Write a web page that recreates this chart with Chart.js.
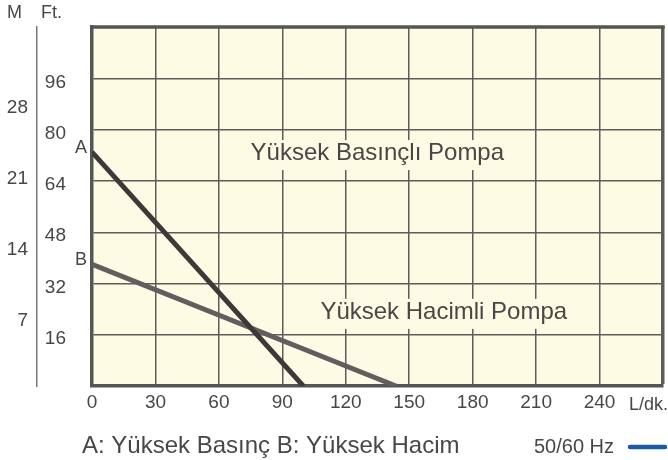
<!DOCTYPE html>
<html lang="tr">
<head>
    <meta charset="UTF-8">
    <title>Pompa Performans Eğrisi</title>
    <script src="https://cdn.jsdelivr.net/npm/chart.js"></script>
    <style>
        html, body { margin: 0; padding: 0; background: #fff; }
        #wrap { width: 668px; height: 460px; }
    </style>
</head>
<body>
    <div id="wrap"><canvas id="pumpChart" width="668" height="460"></canvas></div>
    <script>
        // values
        const flowMax = 270;                 // L/dk.
        const flowStep = 30;
        const feetMax = 112;
        const feetStep = 16;
        const feetLabels = [16, 32, 48, 64, 80, 96];
        const meterLabels = [7, 14, 21, 28];
        const meterRange = [0.6, 35.9];
        const pumpA = [{x: 0, y: 73}, {x: 100, y: 0}];
        const pumpB = [{x: 0, y: 38}, {x: 144, y: 0}];
        const curveNames = ['A', 'B'];
        const curveTitles = ['Yüksek Basınçlı Pompa', 'Yüksek Hacimli Pompa'];
        const titleSpots = [{x: 75, y: 70.5}, {x: 108, y: 21}];
        const legendText = 'A: Yüksek Basınç B: Yüksek Hacim';
        const freqText = '50/60 Hz';

        const FONT = '"Liberation Sans", Arial, sans-serif';
        const TXT = '#474747';
        const GRID = '#5c5c5c';
        const FRAME = '#555555';
        const PAPER = '#fefbe4';

        const paperPlugin = {
            id: 'paper',
            beforeDraw(chart) {
                const {ctx, chartArea: a} = chart;
                ctx.save();
                ctx.fillStyle = PAPER;
                ctx.fillRect(a.left, a.top, a.right - a.left, a.bottom - a.top);
                ctx.restore();
            },
            beforeDatasetsDraw(chart) {
                const {ctx, chartArea: a} = chart;
                const xs = chart.scales.x, ys = chart.scales.yFt;
                ctx.save();
                // top edge of the frame
                ctx.strokeStyle = FRAME;
                ctx.lineWidth = 3.5;
                ctx.beginPath();
                ctx.moveTo(a.left - 1.75, a.top);
                ctx.lineTo(a.right + 1.75, a.top);
                ctx.stroke();
                // curve titles sit on a paper patch that hides the grid
                ctx.font = '24px ' + FONT;
                curveTitles.forEach((t, i) => {
                    const px = xs.getPixelForValue(titleSpots[i].x);
                    const py = ys.getPixelForValue(titleSpots[i].y);
                    const w = ctx.measureText(t).width;
                    ctx.fillStyle = PAPER;
                    ctx.fillRect(px - 3, py - 20, w + 6, 30);
                    ctx.fillStyle = TXT;
                    ctx.textBaseline = 'alphabetic';
                    ctx.fillText(t, px, py);
                });
                ctx.restore();
            },
            afterDraw(chart) {
                const {ctx, chartArea: a} = chart;
                ctx.save();
                ctx.fillStyle = TXT;
                ctx.textBaseline = 'alphabetic';

                // curve letters at the left end of each line
                ctx.font = '18px ' + FONT;
                ctx.textAlign = 'right';
                chart.data.datasets.forEach((ds, i) => {
                    const p = chart.getDatasetMeta(i).data[0];
                    ctx.fillText(curveNames[i], p.x - 5, p.y + 1);
                });

                // axis units
                ctx.textAlign = 'left';
                ctx.fillText('M', 7, 18);
                ctx.fillText('Ft.', 41, 18);
                ctx.textAlign = 'right';
                ctx.fillText('L/dk.', 668, a.bottom + 24);

                // bottom legend
                ctx.textAlign = 'left';
                ctx.font = '24px ' + FONT;
                ctx.fillText(legendText, 82, 453);
                ctx.font = '20px ' + FONT;
                ctx.fillText(freqText, 534, 453);
                ctx.strokeStyle = '#1d58a2';
                ctx.lineWidth = 4.5;
                ctx.lineCap = 'round';
                ctx.beginPath();
                ctx.moveTo(630, 447);
                ctx.lineTo(665, 447);
                ctx.stroke();
                ctx.restore();
            }
        };

        const ctx = document.getElementById('pumpChart').getContext('2d');
        new Chart(ctx, {
            type: 'line',
            data: {
                datasets: [
                    {label: curveNames[0], data: pumpA, borderColor: '#3d3939', borderWidth: 5,
                     pointRadius: 0, borderCapStyle: 'butt', xAxisID: 'x', yAxisID: 'yFt'},
                    {label: curveNames[1], data: pumpB, borderColor: '#625d5e', borderWidth: 5,
                     pointRadius: 0, borderCapStyle: 'butt', xAxisID: 'x', yAxisID: 'yFt'}
                ]
            },
            options: {
                responsive: false,
                devicePixelRatio: 1,
                animation: false,
                layout: {padding: {top: 27, right: 2, bottom: 41, left: 0}},
                plugins: {legend: {display: false}, tooltip: {enabled: false}},
                scales: {
                    x: {
                        type: 'linear',
                        min: 0, max: flowMax,
                        ticks: {
                            stepSize: flowStep,
                            color: TXT,
                            padding: 5,
                            font: {family: FONT, size: 19},
                            callback: v => v === flowMax ? '' : v
                        },
                        grid: {
                            color: GRID,
                            drawTicks: false,
                            lineWidth: c => (c.tick && c.tick.value === flowMax) ? 3.5 : 1.5
                        },
                        border: {display: true, color: FRAME, width: 3.5}
                    },
                    yFt: {
                        type: 'linear',
                        position: 'left',
                        weight: 0,
                        min: 0, max: feetMax,
                        ticks: {
                            stepSize: feetStep,
                            color: TXT,
                            padding: 26,
                            labelOffset: 4,
                            font: {family: FONT, size: 19, lineHeight: 0.1},
                            callback: v => feetLabels.includes(v) ? v : ''
                        },
                        grid: {
                            color: GRID,
                            drawTicks: false,
                            lineWidth: 1.5
                        },
                        border: {display: true, color: FRAME, width: 3.5},
                        afterFit: s => { s.width = 55; }
                    },
                    yM: {
                        type: 'linear',
                        position: 'left',
                        weight: 1,
                        min: meterRange[0], max: meterRange[1],
                        afterBuildTicks: s => { s.ticks = meterLabels.map(v => ({value: v})); },
                        ticks: {
                            color: TXT,
                            padding: 9,
                            font: {family: FONT, size: 19, lineHeight: 0.1}
                        },
                        grid: {display: false, drawTicks: false},
                        border: {display: true, color: '#777', width: 1.5},
                        afterFit: s => { s.width = 37; }
                    }
                }
            },
            plugins: [paperPlugin]
        });
    </script>
</body>
</html>
